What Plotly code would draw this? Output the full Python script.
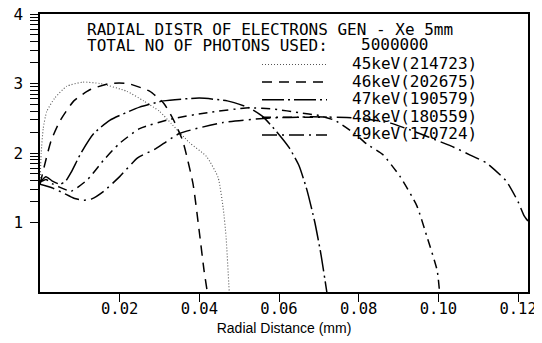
import math
import plotly.graph_objects as go

# ---------------- data ----------------
x45 = [0, 0.0003, 0.0008, 0.0017, 0.0037, 0.0067, 0.0108, 0.015, 0.0217, 0.026, 0.030, 0.033,
       0.0375, 0.0418, 0.0447, 0.046, 0.0467, 0.0475]
y45 = [1.55, 2.0, 2.35, 2.6, 2.79, 2.96, 3.02, 3.0, 2.89, 2.75, 2.6, 2.42,
       2.15, 1.95, 1.65, 1.2, 0.8, 0.0]

x46 = [0, 0.0013, 0.0028, 0.005, 0.0085, 0.0125, 0.0175, 0.022, 0.0275, 0.031, 0.0333,
       0.0358, 0.0384, 0.040, 0.0412, 0.042]
y46 = [1.55, 1.86, 2.18, 2.46, 2.75, 2.91, 3.0, 3.0, 2.89, 2.72, 2.5,
       2.18, 1.56, 0.86, 0.3, 0.0]

x47 = [0, 0.0015, 0.003, 0.005, 0.0065, 0.0078, 0.0103, 0.0135, 0.0175, 0.025, 0.031, 0.040,
       0.047, 0.0525, 0.056, 0.0595, 0.0625, 0.065, 0.067, 0.069, 0.0705, 0.072]
y47 = [1.58, 1.66, 1.6, 1.55, 1.6, 1.72, 2.0, 2.28, 2.47, 2.66, 2.75, 2.79,
       2.75, 2.65, 2.52, 2.3, 2.08, 1.82, 1.47, 1.0, 0.55, 0.0]

x48 = [0, 0.0015, 0.003, 0.0045, 0.0078, 0.012, 0.016, 0.020, 0.025, 0.033, 0.042, 0.0525,
       0.059, 0.065, 0.070, 0.074, 0.079, 0.082, 0.086, 0.0904, 0.0946, 0.097, 0.0997, 0.1003]
y48 = [1.58, 1.62, 1.56, 1.52, 1.45, 1.62, 1.90, 2.14, 2.35, 2.49, 2.58, 2.65,
       2.63, 2.58, 2.54, 2.47, 2.28, 2.13, 1.98, 1.66, 1.24, 0.82, 0.31, 0.0]

x49 = [0, 0.003, 0.006, 0.0085, 0.011, 0.013, 0.016, 0.020, 0.0245, 0.029, 0.035, 0.046,
       0.057, 0.068, 0.077, 0.082, 0.088, 0.093, 0.0975, 0.104, 0.108, 0.112, 0.117, 0.120,
       0.1215, 0.1225]
y49 = [1.55, 1.5, 1.42, 1.35, 1.32, 1.34, 1.45, 1.66, 1.93, 2.06, 2.28, 2.44,
       2.50, 2.52, 2.51, 2.49, 2.43, 2.33, 2.23, 2.08, 1.97, 1.86, 1.6, 1.3,
       1.1, 1.02]

series_x = [x45, x46, x47, x48, x49]
series_y = [y45, y46, y47, y48, y49]
legend_labels = ["45keV(214723)", "46keV(202675)", "47keV(190579)", "48keV(180559)", "49keV(170724)"]

title_line1 = "RADIAL DISTR OF ELECTRONS GEN - Xe 5mm"
title_line2 = "TOTAL NO OF PHOTONS USED:"
photons_total = "5000000"

x_tickvals = [0.02, 0.04, 0.06, 0.08, 0.10, 0.12]
x_ticktext = ["0.02", "0.04", "0.06", "0.08", "0.10", "0.12"]
y_major = [1, 2, 3, 4]
y_major_text = ["1", "2", "3", "4"]
x_title = "Radial Distance (mm)"

# ---------------- styling ----------------
styles = [
    dict(color="#555555", width=1.1, dash="1px,2px"),
    dict(color="black", width=1.5, dash="10px,7px"),
    dict(color="black", width=1.5, dash="22px,4px,2px,4px"),
    dict(color="black", width=1.5, dash="9px,5px,2px,5px"),
    dict(color="black", width=1.5, dash="15px,5px,2px,5px"),
]

MONO = "DejaVu Sans Mono"
OFF = 8                      # page body margin in the browser
SW, SH = 542, 343            # screenshot size
W, H = SW - OFF, SH - OFF    # figure size
# plot-area edges in screenshot pixels
PL, PR, PT, PB = 40, 528, 14, 292
L, R, T, B = PL - OFF, W - (PR - OFF), PT - OFF, H - (PB - OFF)
PW, PH = PR - PL, PB - PT


def px(xp):
    return (xp - PL) / PW


def py(yp):
    return (PB - yp) / PH


fig = go.Figure()
for xs, ys, st, name in zip(series_x, series_y, styles, legend_labels):
    fig.add_trace(go.Scatter(x=xs, y=ys, mode="lines", name=name,
                             line=dict(color=st["color"], width=st["width"], dash=st["dash"],
                                       shape="spline", smoothing=0.5),
                             showlegend=False, hoverinfo="skip"))

annotations = [
    dict(text=title_line1, x=px(85), y=py(30)),
    dict(text=title_line2, x=px(85), y=py(46)),
    dict(text=photons_total, x=px(359), y=py(44)),
]
shapes = []
row0, rowgap = 63.5, 17.6
for i, (lab, st) in enumerate(zip(legend_labels, styles)):
    yy = row0 + rowgap * i
    annotations.append(dict(text=lab, x=px(350), y=py(yy)))
    shapes.append(dict(type="line", xref="paper", yref="paper",
                       x0=px(262), x1=px(327), y0=py(yy + 1), y1=py(yy + 1),
                       line=dict(color=st["color"], width=st["width"], dash=st["dash"])))

for a in annotations:
    a.update(xref="paper", yref="paper", xanchor="left", yanchor="middle", showarrow=False,
             font=dict(family=MONO, size=16, color="black"))

# y ticks: labelled unit ticks plus unlabelled log-spaced ticks inside each unit
y_tickvals = list(y_major)
y_ticktext = list(y_major_text)
for n in (1, 2, 3):
    for k in range(2, 10):
        y_tickvals.append(n + math.log10(k))
        y_ticktext.append("")

fig.update_layout(
    width=W, height=H,
    margin=dict(l=L, r=R, t=T, b=B, autoexpand=False),
    paper_bgcolor="white", plot_bgcolor="white",
    annotations=annotations, shapes=shapes,
    showlegend=False,
)
fig.update_xaxes(range=[0, 0.1225], showgrid=False, zeroline=False, automargin=False,
                 showline=True, linecolor="black", linewidth=1.5, mirror=True,
                 tickmode="array", tickvals=x_tickvals, ticktext=x_ticktext,
                 ticks="outside", ticklen=8, tickwidth=1.2, tickcolor="black",
                 ticklabelstandoff=-6, ticklabeloverflow="allow",
                 tickfont=dict(family=MONO, size=15.5, color="black"),
                 title=dict(text=x_title, standoff=6,
                            font=dict(family="Liberation Sans", size=14, color="black")))
fig.update_yaxes(range=[0, 4], showgrid=False, zeroline=False, automargin=False,
                 showline=True, linecolor="black", linewidth=1.5, mirror=True,
                 tickmode="array", tickvals=y_tickvals, ticktext=y_ticktext,
                 ticks="outside", ticklen=8, tickwidth=1.2, tickcolor="black",
                 ticklabelstandoff=4, ticklabeloverflow="allow",
                 tickfont=dict(family=MONO, size=16, color="black"))

fig.write_html("out.html")
